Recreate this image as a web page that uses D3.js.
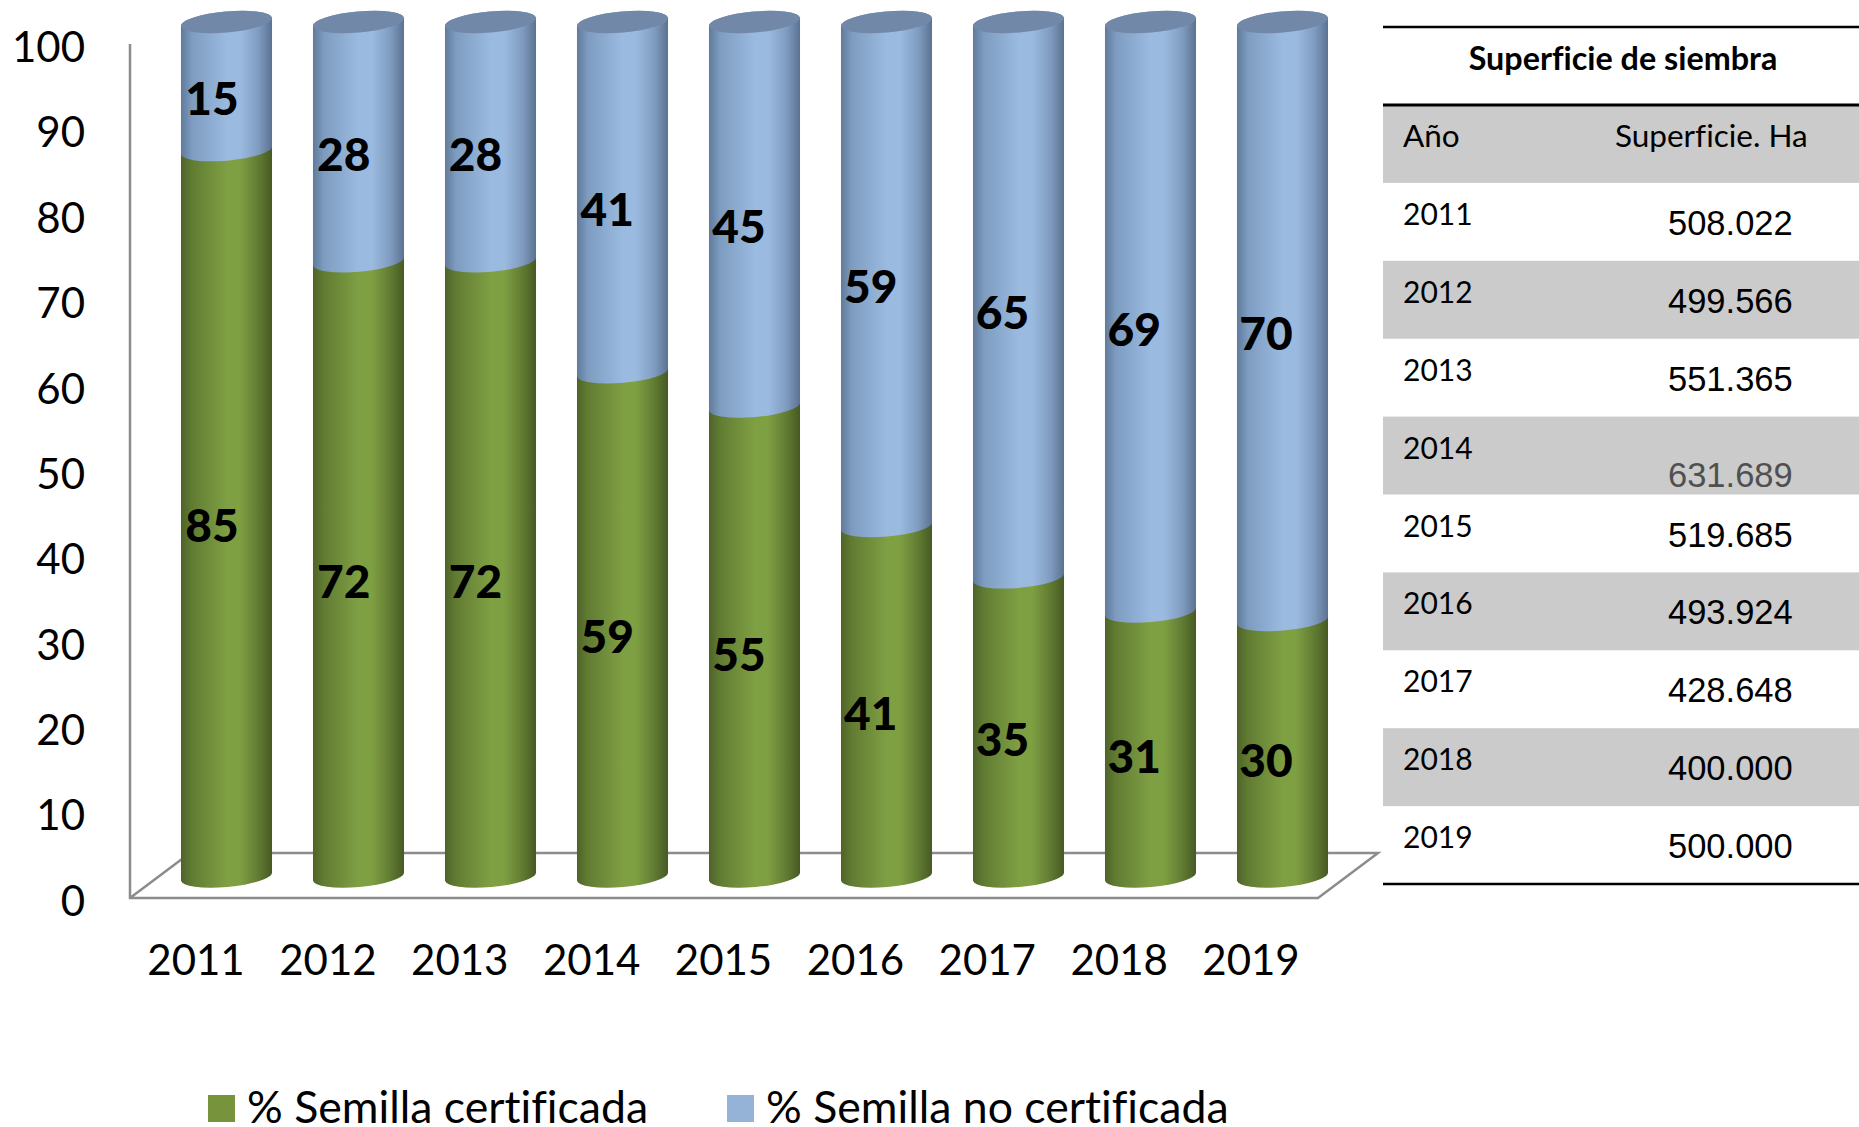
<!DOCTYPE html>
<html>
<head>
<meta charset="utf-8">
<script src="https://cdn.jsdelivr.net/npm/d3@7"></script>
<style>
  html, body { margin: 0; padding: 0; background: #fff; }
  svg { display: block; }
  text { font-family: Lato, sans-serif; fill: #000; font-variant-ligatures: none; }
  .num { font-family: "Liberation Sans", Arial, sans-serif; }
</style>
</head>
<body>
<div id="root"></div>
<script>
// Chart data
const years = ["2011", "2012", "2013", "2014", "2015", "2016", "2017", "2018", "2019"];
const certificada = [85, 72, 72, 59, 55, 41, 35, 31, 30];
const noCertificada = [15, 28, 28, 41, 45, 59, 65, 69, 70];
const yTicks = [0, 10, 20, 30, 40, 50, 60, 70, 80, 90, 100];
const seriesNames = ["% Semilla certificada", "% Semilla no certificada"];

// Table data
const tableTitle = "Superficie de siembra";
const tableHeader = ["Año", "Superficie. Ha"];
const superficie = ["508.022", "499.566", "551.365", "631.689", "519.685", "493.924", "428.648", "400.000", "500.000"];

const width = 1859;
const height = 1127;

const svg = d3.select("#root").append("svg")
  .attr("width", width)
  .attr("height", height);

const defs = svg.append("defs");

function addGradient(id, stops) {
  const grad = defs.append("linearGradient").attr("id", id);
  stops.forEach(s => grad.append("stop").attr("offset", s[0]).attr("stop-color", s[1]));
}
addGradient("greenBar", [[0, "#4e6428"], [0.12, "#617c32"], [0.5, "#7f9f43"], [0.65, "#7f9f43"], [0.85, "#617b32"], [1, "#465a24"]]);
addGradient("blueBar", [[0, "#5f7a9c"], [0.12, "#7d9cc0"], [0.5, "#9bbae0"], [0.65, "#9bbae0"], [0.85, "#7f9cc0"], [1, "#5c7292"]]);

// Scales: the axis runs along the front of the floor, the cylinders stand further back on it
const yAxisScale = d3.scaleLinear().domain([0, 100]).range([900, 46.5]);
const yBar = d3.scaleLinear().domain([0, 100]).range([876.5, 22]);
const xBar = d3.scalePoint().domain(years).range([226.5, 1282.5]);
const xTickLabel = d3.scalePoint().domain(years).range([195.5, 1250.5]);
const xValueLabel = d3.scalePoint().domain(years).range([212, 1266]);

// Floor and y axis line
const wallColor = "#8c8c8c";
const floorLine = d3.line();
svg.append("path")
  .attr("d", floorLine([[130, 44], [130, 898], [1318, 898], [1378, 853], [190, 853], [130, 898]]))
  .attr("fill", "none")
  .attr("stroke", wallColor)
  .attr("stroke-width", 2.5);

// Stacked cylinders
const rows = years.map((y, i) => ({ year: y, cert: certificada[i], noCert: noCertificada[i] }));
const stacked = d3.stack().keys(["cert", "noCert"])(rows);

const rx = 45.7, ry = 10.5, tilt = -5;
const dx = rx * Math.cos(tilt * Math.PI / 180);
const dy = rx * Math.sin(tilt * Math.PI / 180);

function cylinderPath(cx, yLow, yHigh) {
  const arc = `A${rx},${ry} ${tilt} 0 0`;
  return `M${cx - dx},${yHigh - dy} L${cx - dx},${yLow - dy} ${arc} ${cx + dx},${yLow + dy} `
    + `L${cx + dx},${yHigh + dy} ${arc} ${cx - dx},${yHigh - dy} Z`;
}

const fills = ["url(#greenBar)", "url(#blueBar)"];
stacked.forEach((layer, k) => {
  svg.append("g").selectAll("path")
    .data(layer)
    .join("path")
    .attr("d", d => cylinderPath(xBar(d.data.year), yBar(d[0]), yBar(d[1])))
    .attr("fill", fills[k]);
});

// top caps
svg.append("g").selectAll("ellipse")
  .data(years)
  .join("ellipse")
  .attr("rx", rx)
  .attr("ry", ry)
  .attr("transform", d => `translate(${xBar(d)},${yBar(100)}) rotate(${tilt})`)
  .attr("fill", "#7288a8");

// Value labels
stacked.forEach(layer => {
  svg.append("g").selectAll("text")
    .data(layer)
    .join("text")
    .attr("x", d => xValueLabel(d.data.year))
    .attr("y", d => (yBar(d[0]) + yBar(d[1])) / 2 + 29)
    .attr("text-anchor", "middle")
    .attr("font-size", 46)
    .attr("font-weight", 900)
    .text(d => d[1] - d[0]);
});

// Axes
const yAxis = d3.axisLeft(yAxisScale).tickValues(yTicks).tickSize(0).tickPadding(0);
const yG = svg.append("g").attr("transform", "translate(85,0)").call(yAxis);
yG.select(".domain").remove();
yG.selectAll("text")
  .attr("dy", "0.36em")
  .attr("font-size", 42)
  .style("font-family", "Lato, sans-serif");

const xAxis = d3.axisBottom(xTickLabel).tickSize(0).tickPadding(0);
const xG = svg.append("g").attr("transform", "translate(0,975)").call(xAxis);
xG.select(".domain").remove();
xG.selectAll("text")
  .attr("dy", 0)
  .attr("font-size", 42)
  .style("font-family", "Lato, sans-serif");

// Legend
const legendX = [208, 727];
const legendColors = ["#77933c", "#95b3d7"];
const legend = svg.append("g").selectAll("g")
  .data(seriesNames)
  .join("g")
  .attr("transform", (d, i) => `translate(${legendX[i]},1095)`);
legend.append("rect")
  .attr("width", 27)
  .attr("height", 27)
  .attr("fill", (d, i) => legendColors[i]);
legend.append("text")
  .attr("x", 39)
  .attr("y", 28)
  .attr("font-size", 44.6)
  .text(d => d);

// Table on the right
const tableLeft = 1383;
const rowH = d3.scaleLinear().domain([0, 10]).range([105, 884]);
const table = svg.append("g");

d3.range(0, 10).filter(i => i % 2 === 0).forEach(i => {
  table.append("rect")
    .attr("x", tableLeft)
    .attr("y", rowH(i))
    .attr("width", width - tableLeft)
    .attr("height", rowH(i + 1) - rowH(i))
    .attr("fill", "#cbcbcb");
});

[[27, 2.5], [105, 3], [884, 2.5]].forEach(r => {
  table.append("line")
    .attr("x1", tableLeft).attr("x2", width)
    .attr("y1", r[0]).attr("y2", r[0])
    .attr("stroke", "#000")
    .attr("stroke-width", r[1]);
});

table.append("text")
  .attr("x", 1623).attr("y", 70)
  .attr("text-anchor", "middle")
  .attr("font-size", 32.3)
  .attr("font-weight", 700)
  .text(tableTitle);

table.append("text").attr("x", 1403).attr("y", 147).attr("font-size", 31.5).text(tableHeader[0]);
table.append("text").attr("x", 1615).attr("y", 147).attr("font-size", 31.5).text(tableHeader[1]);

table.append("g").selectAll("text")
  .data(years)
  .join("text")
  .attr("x", 1403)
  .attr("y", (d, i) => rowH(i + 1) + 42)
  .attr("font-size", 30)
  .text(d => d);

table.append("g").selectAll("text")
  .data(superficie)
  .join("text")
  .attr("class", "num")
  .attr("x", 1668)
  .attr("y", (d, i) => rowH(i + 1) + (i === 3 ? 70 : 52))
  .attr("font-size", 34.5)
  .style("fill", (d, i) => i === 3 ? "#505050" : "#000")
  .text(d => d);
</script>
</body>
</html>
